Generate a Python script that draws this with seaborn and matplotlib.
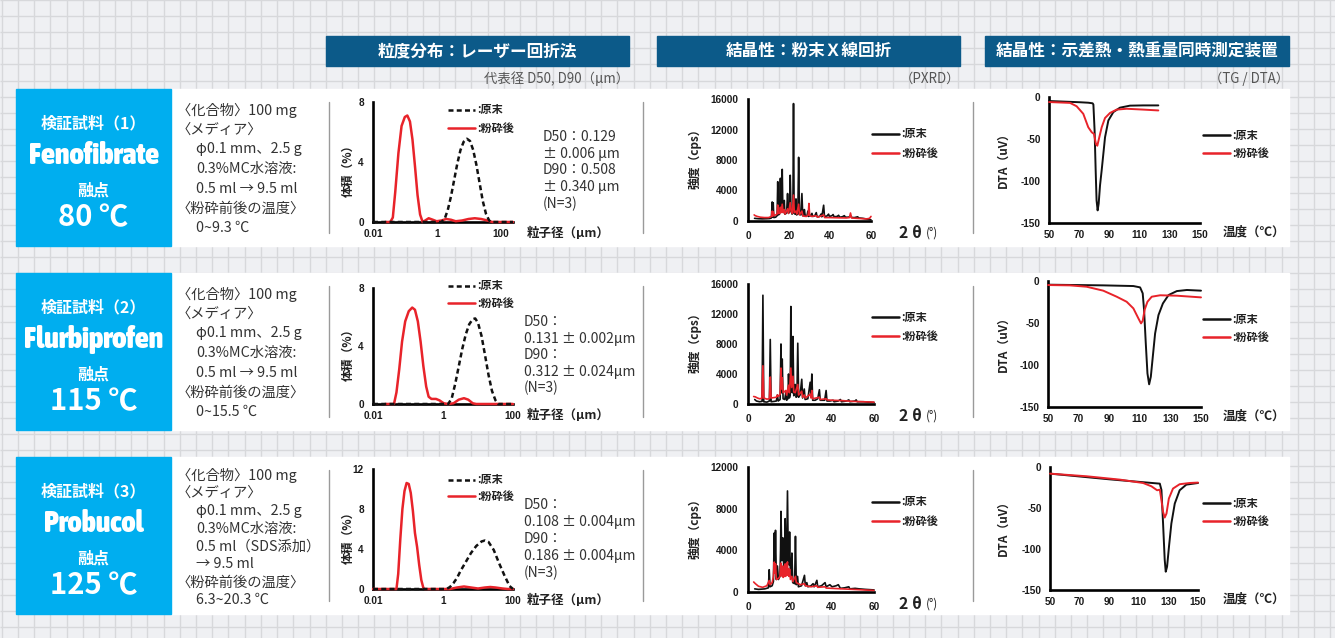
import numpy as np
import matplotlib
matplotlib.use("Agg")
import matplotlib.pyplot as plt
import seaborn as sns
from matplotlib import font_manager
from matplotlib.font_manager import FontProperties
from matplotlib.patches import Rectangle
from matplotlib.collections import LineCollection
from matplotlib.lines import Line2D
from matplotlib.ticker import NullLocator

# ---------------------------------------------------------------- data
samples = ["Fenofibrate", "Flurbiprofen", "Probucol"]
sample_titles = ["検証試料（1）", "検証試料（2）", "検証試料（3）"]
melting_points = ["80 ℃", "115 ℃", "125 ℃"]

conditions = [
    ["〈化合物〉100 mg", "〈メディア〉", "φ0.1 mm、2.5 g", "0.3%MC水溶液:",
     "0.5 ml → 9.5 ml", "〈粉砕前後の温度〉", "0~9.3 ℃"],
    ["〈化合物〉100 mg", "〈メディア〉", "φ0.1 mm、2.5 g", "0.3%MC水溶液:",
     "0.5 ml → 9.5 ml", "〈粉砕前後の温度〉", "0~15.5 ℃"],
    ["〈化合物〉100 mg", "〈メディア〉", "φ0.1 mm、2.5 g", "0.3%MC水溶液:",
     "0.5 ml（SDS添加）", "→ 9.5 ml", "〈粉砕前後の温度〉", "6.3~20.3 ℃"],
]

d_values = [
    ["D50：0.129", "± 0.006 μm", "D90：0.508", "± 0.340 μm", "(N=3)"],
    ["D50：", "0.131 ± 0.002μm", "D90：", "0.312 ± 0.024μm", "(N=3)"],
    ["D50：", "0.108 ± 0.004μm", "D90：", "0.186 ± 0.004μm", "(N=3)"],
]

section_titles = ["粒度分布：レーザー回折法", "結晶性：粉末Ｘ線回折", "結晶性：示差熱・熱重量同時測定装置"]
section_notes = ["代表径 D50, D90（μm）", "（PXRD）", "（TG / DTA）"]
legend_labels = [":原末", ":粉砕後"]

# particle size distribution (size in µm, volume %)
feno_psd_raw_um = [0.01, 1.41, 1.78, 2.24, 2.82, 3.55, 4.47, 5.62, 7.08, 8.91, 11.2, 14.1,
                   17.8, 22.4, 28.2, 35.5, 44.7, 52.5, 251]
feno_psd_raw_pct = [0, 0, 0.2, 0.8, 1.7, 2.8, 3.9, 4.8, 5.35, 5.55, 5.4, 4.8,
                    3.8, 2.6, 1.4, 0.55, 0.1, 0, 0]
feno_psd_mill_um = [0.024, 0.035, 0.042, 0.050, 0.063, 0.079, 0.100, 0.120, 0.145, 0.174,
                    0.209, 0.251, 0.302, 0.363, 0.437, 0.562, 0.759, 1.00, 1.41, 2.00,
                    2.82, 3.98, 6.31, 10.0, 15.8, 25.1, 39.8, 56.2, 251]
feno_psd_mill_pct = [0, 0, 0.3, 2.0, 4.6, 6.4, 7.0, 7.1, 6.7, 5.5,
                     3.7, 1.8, 0.5, 0.0, 0.1, 0.25, 0.15, 0.05, 0.1, 0.2,
                     0.15, 0.05, 0.1, 0.2, 0.25, 0.2, 0.1, 0.0, 0.0]

flur_psd_raw_um = [0.01, 1.41, 1.78, 2.24, 2.82, 3.55, 4.47, 5.62, 7.08, 8.32, 10.0, 12.6,
                   15.8, 20.0, 25.1, 31.6, 38.0, 100]
flur_psd_raw_pct = [0, 0, 0.4, 1.4, 2.6, 3.8, 4.8, 5.5, 5.85, 5.9, 5.6, 4.7,
                    3.4, 2.0, 0.9, 0.25, 0, 0]
flur_psd_mill_um = [0.022, 0.0398, 0.0468, 0.0562, 0.0676, 0.0832, 0.105, 0.132, 0.158,
                    0.191, 0.229, 0.275, 0.331, 0.389, 0.468, 0.631, 0.794, 1.05, 1.41,
                    2.00, 2.82, 3.98, 5.25, 7.08, 8.91, 100]
flur_psd_mill_pct = [0, 0, 0.8, 2.4, 4.3, 5.7, 6.4, 6.65, 6.5,
                     5.7, 4.3, 2.6, 1.2, 0.5, 0.35, 0.35, 0.25, 0.05, 0,
                     0.05, 0.3, 0.4, 0.3, 0.05, 0, 0]

prob_psd_raw_um = [0.01, 1.26, 1.58, 2.00, 2.51, 3.16, 4.47, 6.31, 8.91, 12.6, 15.8, 20.0,
                   28.2, 39.8, 56.2, 79.4, 100]
prob_psd_raw_pct = [0, 0, 0.2, 0.6, 1.1, 1.8, 2.7, 3.6, 4.3, 4.75, 4.85, 4.7,
                    3.9, 2.6, 1.4, 0.3, 0]
prob_psd_mill_um = [0.01, 0.0468, 0.0525, 0.0603, 0.0692, 0.0794, 0.0912, 0.105, 0.120,
                    0.138, 0.158, 0.182, 0.209, 0.240, 0.275, 0.302, 1.58, 2.51, 3.98,
                    6.31, 10.0, 15.8, 22.4, 31.6, 50.1, 70.8, 100]
prob_psd_mill_pct = [0, 0, 1.5, 5.0, 8.0, 9.8, 10.6, 10.5, 9.6,
                     7.8, 5.6, 4.2, 2.4, 0.9, 0.1, 0, 0, 0.15, 0.25,
                     0.15, 0.05, 0.15, 0.2, 0.15, 0.05, 0, 0]

# powder X-ray diffraction (2θ in degrees, intensity in cps)
feno_xrd_raw_2t = [3.2, 5, 7, 9, 10.5, 11.4, 11.8, 12.0, 12.3, 12.6, 13.5, 14.2, 14.5, 14.8,
                   15.4, 15.8, 16.1, 16.4, 16.7, 17.0, 17.4, 17.7, 18.0, 18.6, 18.9, 19.3,
                   19.7, 20.2, 20.6, 21.0, 21.5, 21.9, 22.2, 22.5, 23.0, 23.4, 23.7, 24.3,
                   24.7, 25.1, 25.8, 26.3, 26.7, 27.2, 27.5, 27.9, 28.8, 29.2, 29.5, 30.5,
                   31.2, 31.6, 32.5, 33.3, 33.7, 35.0, 35.6, 36.0, 36.9, 37.3, 38.5, 39.3,
                   39.7, 41, 41.5, 42, 43.5, 44.2, 44.7, 46, 47, 47.5, 49, 50.2, 50.7, 52,
                   53.5, 54, 56, 58, 60]
feno_xrd_raw_cps = [350, 300, 280, 300, 320, 400, 2500, 500, 2400, 450, 500, 700, 5150, 800,
                    900, 5600, 1200, 1500, 6770, 1400, 1100, 2700, 900, 1000, 1400, 3600,
                    1000, 1200, 6000, 1300, 900, 1200, 15400, 1000, 900, 2900, 800, 900,
                    8350, 900, 800, 3600, 700, 800, 1500, 700, 700, 1300, 600, 700,
                    1000, 600, 650, 1100, 550, 600, 900, 550, 2070, 600, 650, 900,
                    600, 700, 850, 550, 600, 750, 500, 550, 700, 500, 500, 650, 450, 450,
                    550, 400, 350, 250, 150]
feno_xrd_mill_2t = [3.0, 3.5, 4.5, 6, 8, 10, 11.5, 11.8, 12.1, 12.3, 12.7, 13.5, 14.2, 14.5,
                    14.8, 15.5, 15.8, 16.1, 16.7, 17.1, 17.7, 18.1, 19.3, 19.8, 20.6, 21.0,
                    21.6, 22.2, 22.6, 23.4, 23.8, 24.7, 25.1, 26.3, 26.8, 28.5, 29.4, 29.7,
                    30.1, 31, 33.3, 34, 36.9, 37.4, 40, 44, 48, 49.5, 50.0, 50.5, 53, 56,
                    58, 59.3, 60]
feno_xrd_mill_cps = [800, 700, 600, 500, 450, 450, 600, 1300, 650, 1200, 700, 800, 900, 2100,
                     1000, 1000, 1800, 1100, 2200, 1100, 1500, 900, 1600, 1000, 2400, 1300,
                     1000, 3400, 1100, 1300, 900, 2200, 800, 1300, 650, 600, 800, 2300,
                     700, 600, 700, 500, 800, 450, 450, 420, 400, 450, 1050, 400, 350, 300,
                     280, 350, 600]

flur_xrd_raw_2t = [3.2, 4, 5.5, 6.7, 7.1, 7.5, 9, 10.2, 10.6, 11.0, 12.5, 13.5, 14.0, 14.4,
                   15.3, 15.7, 16.0, 16.3, 16.7, 17.5, 18.0, 18.4, 19.0, 19.3, 19.7, 20.1,
                   20.4, 20.8, 21.1, 21.4, 21.8, 22.5, 22.9, 23.3, 23.7, 24.1, 24.8, 25.6,
                   26.0, 26.8, 27.2, 28.5, 29.6, 30.0, 30.4, 30.8, 32, 33.2, 34.0, 34.4,
                   36.5, 37.2, 37.6, 39, 40.5, 41, 43, 44, 44.5, 47, 48, 48.5, 51, 51.5,
                   52, 55, 57, 60]
flur_xrd_raw_cps = [600, 400, 300, 350, 14500, 300, 250, 400, 8600, 300, 350, 400, 1200, 400,
                    600, 8000, 1500, 6000, 700, 600, 1500, 500, 700, 4000, 800, 1200,
                    13000, 2000, 1500, 9000, 1100, 2600, 900, 1000, 8100, 900, 1200, 3300,
                    800, 2000, 600, 700, 2900, 900, 4000, 500, 500, 700, 1900, 500,
                    500, 1800, 400, 400, 500, 300, 400, 600, 300, 400, 550, 300, 400, 550,
                    300, 300, 250, 200]
flur_xrd_mill_2t = [2.7, 3.5, 4.5, 5.5, 6.6, 7.1, 7.5, 9.0, 10.2, 10.6, 11.0, 13.5, 14.0,
                    14.4, 15.3, 15.7, 16.0, 16.3, 16.7, 18.0, 18.4, 19.3, 19.7, 20.4, 20.8,
                    21.4, 21.8, 22.5, 23.7, 24.1, 25.6, 26.0, 26.8, 27.3, 29.6, 30.0, 30.4,
                    30.8, 34.0, 34.4, 37.2, 37.6, 40, 45, 50, 55, 60]
flur_xrd_mill_cps = [1000, 950, 800, 700, 750, 5100, 800, 650, 700, 3600, 800, 900, 1200,
                     1000, 1300, 4800, 2000, 3500, 1500, 1800, 1200, 2500, 1500, 4800, 2200,
                     3700, 1600, 1500, 2600, 1200, 1700, 900, 1200, 800, 1300, 800, 1800,
                     700, 900, 600, 700, 550, 500, 450, 350, 300, 250]

prob_xrd_raw_2t = [3.2, 5, 8, 9.7, 10.1, 10.5, 11.5, 12.1, 12.5, 12.8, 13.1, 13.5, 14.0, 14.5,
                   15.2, 15.5, 15.7, 16.1, 16.4, 16.6, 17.0, 17.3, 17.7, 18.1, 18.4, 18.8,
                   19.2, 19.5, 19.8, 20.2, 20.6, 20.9, 21.3, 22.2, 22.6, 23.0, 23.6, 24.0,
                   25.5, 26.9, 27.3, 28.0, 28.5, 30, 31, 31.5, 32.8, 33.2, 35, 36.7, 37.2,
                   39, 40, 42, 43, 44, 46, 48, 48.5, 51, 53, 56, 60]
prob_xrd_raw_cps = [300, 250, 300, 400, 2140, 500, 600, 1000, 5660, 2000, 5920, 1200, 2500,
                    1200, 1500, 4000, 7740, 3000, 4500, 5200, 2500, 2600, 7040, 2700, 3000,
                    9700, 3000, 2600, 5760, 1500, 1400, 3740, 900, 800, 5340, 700, 1500, 500,
                    600, 1600, 600, 900, 500, 600, 800, 500, 1120, 500, 600, 900, 500,
                    700, 500, 600, 700, 350, 400, 500, 300, 350, 300, 250, 200]
prob_xrd_mill_2t = [2.7, 3.5, 5, 7, 9, 10.1, 10.5, 11.5, 12.1, 12.5, 12.8, 13.1, 13.5, 14.5,
                    15.2, 15.5, 15.7, 15.9, 16.1, 16.3, 16.6, 16.8, 17.0, 17.3, 17.5, 17.7,
                    17.9, 18.1, 18.4, 18.6, 18.8, 19.0, 19.2, 19.5, 19.8, 20.2, 20.9, 21.3,
                    22.6, 23.0, 25, 26.9, 27.3, 30, 32.8, 33.2, 36.7, 37.2, 40, 45, 50, 55, 60]
prob_xrd_mill_cps = [960, 800, 550, 450, 600, 1100, 700, 900, 1500, 2880, 1800, 2700, 1200,
                     1300, 1500, 2300, 2780, 1600, 2400, 1500, 2500, 1400, 2300, 1500, 2600,
                     2700, 1500, 2500, 1600, 2700, 2880, 1600, 2200, 1500, 2200, 1200, 1500,
                     1000, 1500, 900, 700, 800, 600, 500, 600, 450, 500, 380, 350, 300, 250,
                     200, 150]

# differential thermal analysis (temperature in ℃, DTA in µV)
feno_dta_raw_t = [50, 60, 70, 76, 78.9, 79.4, 80.2, 80.9, 81.5, 82.2, 82.9, 83.8, 84.9, 87.1,
                  89.3, 92.6, 97, 103.6, 112.5, 122.4]
feno_dta_raw_uv = [-4.8, -5.5, -6.2, -6.8, -7.5, -9, -40, -87, -123, -135, -127, -105, -87,
                   -48, -28, -18, -12.7, -10.3, -10, -10]
feno_dta_mill_t = [50, 63.9, 68.3, 72.7, 76, 78.3, 79.8, 81.1, 82.0, 83.3, 84.9, 87.1, 90.4,
                   94.8, 101.4, 112.5, 122.4]
feno_dta_mill_uv = [-6, -7, -11, -20, -36, -42, -44, -56, -58, -48, -36, -25, -19, -15, -14,
                    -15, -16]

flur_dta_raw_t = [50, 86.1, 105.8, 110.2, 111.9, 112.8, 113.9, 115, 116.1, 117.2, 118.5, 120,
                  122.2, 125.1, 128.8, 134.2, 140.8, 150]
flur_dta_raw_uv = [-4.4, -5.2, -6, -7.6, -14.7, -34.6, -74, -110, -123, -114, -90, -62.5,
                   -40.6, -26.7, -16.7, -12, -10.7, -11.5]
flur_dta_mill_t = [50, 64.2, 75.2, 86.1, 94.9, 101.4, 105.8, 109.1, 110.8, 111.9, 113.2, 115,
                   117.8, 123.3, 134.2, 150]
flur_dta_mill_uv = [-4.8, -5.2, -6.8, -11.5, -18.7, -24.7, -32.6, -44.6, -50.5, -47.4, -34,
                    -24.7, -18.7, -17, -17.5, -19.5]

prob_dta_raw_t = [50, 90, 124.2, 125.3, 126.4, 127.5, 128.2, 129.1, 130.4, 132, 134.3, 137.6,
                  142.1, 150]
prob_dta_raw_uv = [-8.1, -15, -20.3, -28, -69, -113, -127.7, -121.6, -97, -69, -44.6, -28.4,
                   -21.5, -19.5]
prob_dta_mill_t = [50, 74.7, 97.2, 112.9, 118.5, 122.4, 124.2, 125.3, 126.4, 127.5, 128.7,
                   130.3, 133.1, 137.6, 144.4, 150]
prob_dta_mill_uv = [-8.1, -11.3, -15.4, -19.5, -23.5, -28.4, -27.6, -40.5, -54.7, -61.6,
                    -56.8, -38.5, -26.3, -21, -19.5, -19]

psd_sets = [(feno_psd_raw_um, feno_psd_raw_pct, feno_psd_mill_um, feno_psd_mill_pct),
            (flur_psd_raw_um, flur_psd_raw_pct, flur_psd_mill_um, flur_psd_mill_pct),
            (prob_psd_raw_um, prob_psd_raw_pct, prob_psd_mill_um, prob_psd_mill_pct)]
xrd_sets = [(feno_xrd_raw_2t, feno_xrd_raw_cps, feno_xrd_mill_2t, feno_xrd_mill_cps),
            (flur_xrd_raw_2t, flur_xrd_raw_cps, flur_xrd_mill_2t, flur_xrd_mill_cps),
            (prob_xrd_raw_2t, prob_xrd_raw_cps, prob_xrd_mill_2t, prob_xrd_mill_cps)]
dta_sets = [(feno_dta_raw_t, feno_dta_raw_uv, feno_dta_mill_t, feno_dta_mill_uv),
            (flur_dta_raw_t, flur_dta_raw_uv, flur_dta_mill_t, flur_dta_mill_uv),
            (prob_dta_raw_t, prob_dta_raw_uv, prob_dta_mill_t, prob_dta_mill_uv)]

psd_ymax = [8, 8, 12]
psd_yticks = [[0, 4, 8], [0, 4, 8], [0, 4, 8, 12]]
psd_xmax = [10 ** 2.4, 100, 100]
xrd_ymax = [16000, 16000, 12000]
xrd_yticks = [[0, 4000, 8000, 12000, 16000], [0, 4000, 8000, 12000, 16000],
              [0, 4000, 8000, 12000]]

# ---------------------------------------------------------------- style
sns.set_theme(style="white")
JP = ['Noto Sans CJK JP', 'DejaVu Sans']
plt.rcParams['font.family'] = JP
fm_list = font_manager.fontManager.ttflist
installed = {f.name for f in fm_list}
TICKF = 'Liberation Sans' if 'Liberation Sans' in installed else 'DejaVu Sans'


def _is_bold(f):
    w = f.weight
    return (isinstance(w, (int, float)) and w >= 600) or str(w).lower() in ('bold', 'heavy', 'black', 'semibold', 'demibold')


def condensed_bold_font():
    """Narrow bold face for the compound names, best available."""
    for f in fm_list:
        if ('Narrow' in f.name or 'Condensed' in f.name) and _is_bold(f):
            return FontProperties(fname=f.fname)
    for f in fm_list:
        if str(f.stretch).lower() in ('condensed', 'semi-condensed', 'extra-condensed') and _is_bold(f):
            return FontProperties(fname=f.fname)
    for name in ('Roboto', 'Inter', 'Lato', 'Open Sans', 'Noto Sans'):
        if name in installed:
            return FontProperties(family=name, weight='bold')
    return FontProperties(family='DejaVu Sans', weight='bold')


NAME_FP = condensed_bold_font()

RED = '#e8232a'
BLACK = '#111111'
CYAN = '#00aeef'
NAVY = '#0c5a89'
TXT = '#333333'

W, H = 1335, 638
fig = plt.figure(figsize=(W / 100, H / 100), dpi=100)
fig.patch.set_facecolor('#eff0f3')
renderer = fig.canvas.get_renderer()

# canvas in pixel coordinates for panels and annotations
bg = fig.add_axes([0, 0, 1, 1])
bg.set_xlim(0, W)
bg.set_ylim(H, 0)
bg.axis('off')
bg.set_zorder(-5)

grid_segs = [[(gx, 0), (gx, H)] for gx in np.arange(1.7, W, 16.2)]
grid_segs += [[(0, gy), (W, gy)] for gy in np.arange(0.2, H, 16.07)]
bg.add_collection(LineCollection(grid_segs, colors='#d7d8db', linewidths=1.0))

row_top = [89, 273, 457]
row_h = 157
name_width_px = [130, 139, 99]


def fitted_name(x, y, s, target_w):
    fp = NAME_FP.copy()
    fp.set_size(20)
    t = bg.text(x, y, s, color='white', fontproperties=fp, ha='center', va='center',
                zorder=4)
    ext = t.get_window_extent(renderer)
    size = 20 * target_w / max(ext.width, 1)
    size = min(size, 24)
    fp.set_size(size)
    t.set_fontproperties(fp)
    return t


for r in range(3):
    y0 = row_top[r]
    bg.add_patch(Rectangle((171, y0), 1289 - 171, row_h, color='white', zorder=2))
    bg.add_patch(Rectangle((16, y0), 155, row_h, color=CYAN, zorder=3))
    cx = 93.5
    bg.text(cx, y0 + 34, sample_titles[r], color='white', fontsize=11.5, fontweight='bold',
            ha='center', va='center', zorder=4)
    fitted_name(cx, y0 + 66, samples[r], name_width_px[r])
    bg.text(cx, y0 + 102, "融点", color='white', fontsize=11.5, fontweight='bold',
            ha='center', va='center', zorder=4)
    bg.text(cx, y0 + 128, melting_points[r], color='white', fontsize=21, fontweight='bold',
            ha='center', va='center', zorder=4)

    # sample conditions
    lines = conditions[r]
    step = 19.7 if len(lines) == 7 else 17.9
    first = y0 + 21 if len(lines) == 7 else y0 + 18
    for i, t in enumerate(lines):
        xx = 177 if t.startswith("〈") else 196
        bg.text(xx, first + i * step, t, color=TXT, fontsize=10.3, ha='left', va='center',
                zorder=4)

    # vertical separators
    for sx in (329, 643, 973):
        bg.plot([sx, sx], [y0 + 13, y0 + 144], color='#9a9a9a', lw=1.0, zorder=4)

for i, (x0, x1) in enumerate([(326, 629), (657, 960), (985, 1289)]):
    bg.add_patch(Rectangle((x0, 36), x1 - x0, 30, color=NAVY, zorder=3))
    bg.text((x0 + x1) / 2, 51, section_titles[i], color='white', fontsize=12,
            fontweight='bold', ha='center', va='center', zorder=4)
    bg.text(x1, 79, section_notes[i], color='#555555', fontsize=9.6, ha='right',
            va='center', zorder=4)


def px_axes(x0, ytop, x1, ybot):
    ax = fig.add_axes([x0 / W, 1 - ybot / H, (x1 - x0) / W, (ybot - ytop) / H])
    ax.set_facecolor('none')
    for s in ('top', 'right'):
        ax.spines[s].set_visible(False)
    for s in ('left', 'bottom'):
        ax.spines[s].set_color('black')
        ax.spines[s].set_linewidth(1.9)
    ax.grid(False)
    return ax


def finish(ax, xticks, xlabels, yticks, ylabels, xpad, ypad):
    ax.set_xticks(xticks, xlabels, fontsize=7.2, fontweight='bold', family=TICKF)
    ax.set_yticks(yticks, ylabels, fontsize=7.2, fontweight='bold', family=TICKF)
    ax.xaxis.set_minor_locator(NullLocator())
    ax.tick_params(axis='x', length=0, pad=xpad, colors='#1a1a1a')
    ax.tick_params(axis='y', length=0, pad=ypad, colors='#1a1a1a')
    ax.set_xlabel('')
    ax.set_ylabel('')


def draw_line(ax, x, y, color, lw, dashed=False):
    sns.lineplot(x=x, y=y, ax=ax, color=color, lw=lw, sort=False, estimator=None,
                 legend=False)
    ln = ax.lines[-1]
    ln.set_clip_on(False)
    ln.set_zorder(3)
    if dashed:
        ln.set_linestyle((0, (2.0, 1.3)))


def legend_keys(x0, ya, yb, dashed_first, lw):
    fig.add_artist(Line2D([x0 / W, (x0 + 27) / W], [1 - ya / H, 1 - ya / H], color=BLACK,
                          lw=lw, linestyle=(0, (2.0, 1.3)) if dashed_first else '-'))
    fig.add_artist(Line2D([x0 / W, (x0 + 27) / W], [1 - yb / H, 1 - yb / H], color=RED,
                          lw=lw))
    fig.text((x0 + 29) / W, 1 - ya / H, legend_labels[0], fontsize=8, fontweight='bold',
             color='#222222', va='center', ha='left')
    fig.text((x0 + 29) / W, 1 - yb / H, legend_labels[1], fontsize=8, fontweight='bold',
             color='#222222', va='center', ha='left')


def ftext(x, y, s, **kw):
    fig.text(x / W, 1 - y / H, s, **kw)


# pixel frames of each chart: (left, top, right, bottom)
psd_frames = [(373, 102, 513, 222), (373, 288, 513, 404), (373, 469, 513, 589)]
xrd_frames = [(748, 99, 871, 221), (748, 284, 874, 404), (748, 467, 874, 592)]
dta_frames = [(1049, 97, 1200, 223), (1048, 281, 1201, 407), (1050, 467, 1198, 590)]
psd_leg = [(448, 110, 128), (448, 286, 303), (448, 480, 496)]
xrd_leg = [(872, 134, 153), (872, 317, 336), (872, 502, 521)]
dta_leg = [(1203, 135, 153), (1203, 319, 337), (1203, 503, 521)]
dtext_pos = [(543, 137, 16.7), (524, 322, 16.6), (524, 505, 17.0)]

for r in range(3):
    # ---- particle size distribution
    ax = px_axes(*psd_frames[r])
    raw_x, raw_y, mill_x, mill_y = psd_sets[r]
    draw_line(ax, mill_x, mill_y, RED, 1.8)
    draw_line(ax, raw_x, raw_y, BLACK, 1.8, dashed=True)
    ax.set_xscale('log')
    ax.set_xlim(0.01, psd_xmax[r])
    ax.set_ylim(0, psd_ymax[r])
    finish(ax, [0.01, 1, 100], ["0.01", "1", "100"], psd_yticks[r],
           [str(v) for v in psd_yticks[r]], 5, 6.5)
    l, t, rr, b = psd_frames[r]
    ftext(348, (t + b) / 2 + 6, "体積（%）", rotation=90, fontsize=8.5, fontweight='bold',
          ha='center', va='center', color='#222222')
    ftext(568, b + 11, "粒子径（μm）", fontsize=9, fontweight='bold', ha='center',
          va='center', color='#222222')
    legend_keys(psd_leg[r][0], psd_leg[r][1], psd_leg[r][2], True, 1.8)
    tx, ty, st = dtext_pos[r]
    for i, s in enumerate(d_values[r]):
        ftext(tx, ty + i * st, s, fontsize=10, color=TXT, ha='left', va='center')

    # ---- powder X-ray diffraction
    ax = px_axes(*xrd_frames[r])
    raw_x, raw_y, mill_x, mill_y = xrd_sets[r]
    draw_line(ax, raw_x, raw_y, BLACK, 1.2)
    draw_line(ax, mill_x, mill_y, RED, 1.2)
    ax.set_xlim(0, 60)
    ax.set_ylim(0, xrd_ymax[r])
    finish(ax, [0, 20, 40, 60], ["0", "20", "40", "60"], xrd_yticks[r],
           [str(v) for v in xrd_yticks[r]], 7, 7)
    l, t, rr, b = xrd_frames[r]
    ftext(695, (t + b) / 2 - 4, "強度（cps）", rotation=90, fontsize=8.5, fontweight='bold',
          ha='center', va='center', color='#222222')
    ftext(910, b + 12, "2 θ", fontsize=11.5, fontweight='bold', ha='center', va='center',
          color='#222222')
    ftext(932, b + 12, "(°)", fontsize=8.5, ha='center', va='center', color='#222222')
    legend_keys(xrd_leg[r][0], xrd_leg[r][1], xrd_leg[r][2], False, 1.8)

    # ---- differential thermal analysis
    ax = px_axes(*dta_frames[r])
    raw_x, raw_y, mill_x, mill_y = dta_sets[r]
    draw_line(ax, raw_x, raw_y, BLACK, 1.4)
    draw_line(ax, mill_x, mill_y, RED, 1.4)
    ax.set_xlim(50, 150)
    ax.set_ylim(-150, 0)
    finish(ax, list(range(50, 151, 20)), [str(v) for v in range(50, 151, 20)],
           [0, -50, -100, -150], ["0", "-50", "-100", "-150"], 5, 6)
    l, t, rr, b = dta_frames[r]
    ftext(1003, (t + b) / 2 - 3, "DTA（uV）", rotation=90, fontsize=8.5, fontweight='bold',
          ha='center', va='center', color='#222222')
    ftext(1254, b + 9, "温度（℃）", fontsize=9, fontweight='bold', ha='center', va='center',
          color='#222222')
    legend_keys(dta_leg[r][0], dta_leg[r][1], dta_leg[r][2], False, 1.8)

fig.savefig("out.png", dpi=100, facecolor=fig.get_facecolor())
